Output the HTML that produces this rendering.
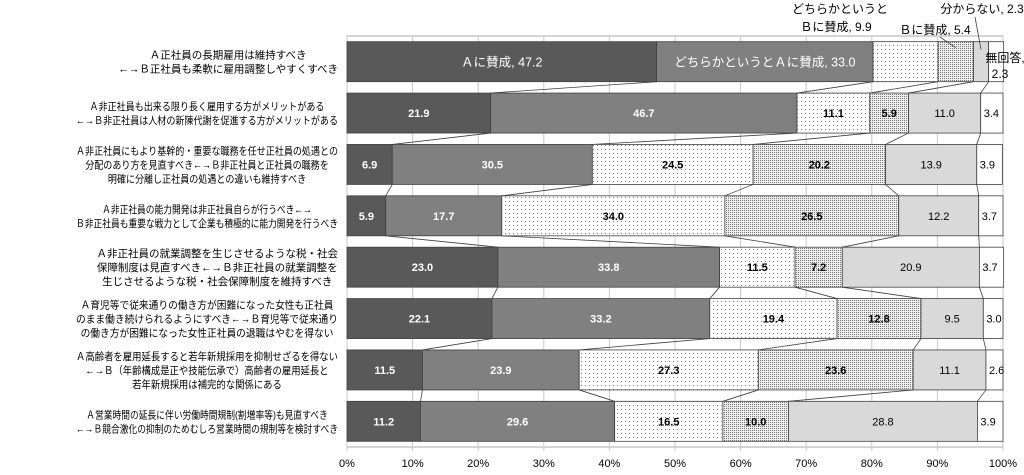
<!DOCTYPE html>
<html><head><meta charset="utf-8"><style>
body{margin:0;background:#fff;width:1024px;height:470px;overflow:hidden;font-family:"Liberation Sans","Noto Sans CJK JP",sans-serif}
</style></head><body>
<svg id="c" width="1024" height="470" xmlns="http://www.w3.org/2000/svg" font-family="'Liberation Sans','Noto Sans CJK JP',sans-serif">
<defs>
<pattern id="sparse" width="4" height="4" patternUnits="userSpaceOnUse"><rect width="4" height="4" fill="#fff"/><rect x="1" y="1" width="1" height="1" fill="#777"/></pattern>
<pattern id="dense" width="2" height="2" patternUnits="userSpaceOnUse"><rect width="2" height="2" fill="#eee"/><rect width="1" height="1" fill="#777"/></pattern>
</defs>
</svg>
<script>
const categories=[
["Ａ正社員の長期雇用は維持すべき","←→Ｂ正社員も柔軟に雇用調整しやすくすべき"],
["Ａ非正社員も出来る限り長く雇用する方がメリットがある","←→Ｂ非正社員は人材の新陳代謝を促進する方がメリットがある"],
["Ａ非正社員にもより基幹的・重要な職務を任せ正社員の処遇との","分配のあり方を見直すべき←→Ｂ非正社員と正社員の職務を","明確に分離し正社員の処遇との違いも維持すべき"],
["Ａ非正社員の能力開発は非正社員自らが行うべき←→","Ｂ非正社員も重要な戦力として企業も積極的に能力開発を行うべき"],
["Ａ非正社員の就業調整を生じさせるような税・社会","保障制度は見直すべき←→Ｂ非正社員の就業調整を","生じさせるような税・社会保障制度を維持すべき"],
["Ａ育児等で従来通りの働き方が困難になった女性も正社員","のまま働き続けられるようにすべき←→Ｂ育児等で従来通り","の働き方が困難になった女性正社員の退職はやむを得ない"],
["Ａ高齢者を雇用延長すると若年新規採用を抑制せざるを得ない","←→Ｂ（年齢構成是正や技能伝承で）高齢者の雇用延長と","若年新規採用は補完的な関係にある"],
["Ａ営業時間の延長に伴い労働時間規制(割増率等)も見直すべき","←→Ｂ競合激化の抑制のためむしろ営業時間の規制等を検討すべき"]];
const seriesNames=["Ａに賛成","どちらかというとＡに賛成","どちらかというとＢに賛成","Ｂに賛成","分からない","無回答"];
const sA=[47.2,21.9,6.9,5.9,23.0,22.1,11.5,11.2];
const sA2=[33.0,46.7,30.5,17.7,33.8,33.2,23.9,29.6];
const sB2=[9.9,11.1,24.5,34.0,11.5,19.4,27.3,16.5];
const sB=[5.4,5.9,20.2,26.5,7.2,12.8,23.6,10.0];
const sDK=[2.3,11.0,13.9,12.2,20.9,9.5,11.1,28.8];
const sNA=[2.3,3.4,3.9,3.7,3.7,3.0,2.6,3.9];
const ticks=["0%","10%","20%","30%","40%","50%","60%","70%","80%","90%","100%"];
const series=[sA,sA2,sB2,sB,sDK,sNA];
const fills=["#595959","#808080","url(#sparse)","url(#dense)","#d9d9d9","#fff"];
const tcol=["#fff","#fff","#000","#000","#000","#000"];
const tw=["bold","bold","bold","bold","normal","normal"];
const X0=347,X1=1003,Y0=36,Y1=447,BH=40;
const x=v=>X0+(X1-X0)*v/100;
const rowH=(Y1-Y0)/categories.length;
const yTop=i=>Y0+rowH*i+(rowH-BH)/2;
const svg=document.getElementById('c');
const NS="http://www.w3.org/2000/svg";
function mk(t,a,p){const e=document.createElementNS(NS,t);for(const k in a)e.setAttribute(k,a[k]);(p||svg).appendChild(e);return e;}
const frame=mk('rect',{x:X0,y:Y0,width:X1-X0,height:Y1-Y0,fill:'#fff',stroke:'#aaa'});


ticks.forEach((t,i)=>{
 const gx=x(i*10);
 const g=mk('line',{x1:gx,x2:gx,y1:Y0,y2:Y1+4,stroke:'#c8c8c8'});
 
 
 const tx=mk('text',{x:gx,y:467,'font-size':11,'text-anchor':'middle',fill:'#000'});
 tx.textContent=t;
 
 
});
for(let i=0;i<categories.length-1;i++){
 let c1=0,c2=0;
 for(let s=0;s<series.length-1;s++){
  c1+=series[s][i];c2+=series[s][i+1];
  const l=mk('line',{x1:x(c1),y1:yTop(i)+BH,x2:x(c2),y2:yTop(i+1),stroke:'#404040','stroke-width':0.8});
  
  
 }
}
categories.forEach((cat,i)=>{
 let cum=0;const yt=yTop(i);
 series.forEach((arr,s)=>{
  const v=arr[i];
  const r=mk('rect',{x:x(cum),y:yt,width:x(cum+v)-x(cum),height:BH,fill:fills[s],stroke:'#404040','stroke-width':0.8});
  
  
  const cx=x(cum+v/2);
  if(i===0){
   if(s<2){const t=mk('text',{x:cx,y:yt+BH/2+5,'font-size':12.5,'text-anchor':'middle',fill:'#fff'});t.textContent=seriesNames[s]+", "+v.toFixed(1);
    
    }
  } else {
   const t=mk('text',{x:(s===5?x(cum)+3:cx),y:yt+BH/2+4,'font-size':11,'text-anchor':s===5?'start':'middle',fill:tcol[s],'font-weight':tw[s]});
   t.textContent=v.toFixed(1);
   
   
  }
  cum+=v;
 });
 // category labels: block centered, right edge at 338
 const cy=Y0+rowH*i+rowH/2-(cat.length-1)*7;
 const els=cat.map((ln,k)=>{
  const t=mk('text',{x:0,y:cy+k*14+4,'font-size':10.5,'text-anchor':'middle',fill:'#000'});
  t.textContent=ln;
  
  
  return t;
 });
 const ws=els.map(e=>e.getComputedTextLength());
 const maxW=Math.max(...ws);
 const sc=maxW>262?262/maxW:1;
 const bw=maxW*sc;
 const center=338-bw/2;
 els.forEach((e,k)=>{e.setAttribute('x',center);if(sc<1){e.setAttribute('textLength',ws[k]*sc);e.setAttribute('lengthAdjust','spacingAndGlyphs');}});
});
const c0=sA[0]+sA2[0];
function lbl(txt,tx,ty){const t=mk('text',{x:tx,y:ty,'font-size':12,'text-anchor':'middle',fill:'#000'});t.textContent=txt;
 
 }
function cl(x1,y1,x2,y2){const l=mk('line',{x1,y1,x2,y2,stroke:'#404040','stroke-width':0.8});
 
 }
lbl("どちらかというと",840,13);
lbl("Ｂに賛成, "+sB2[0].toFixed(1),836,31);
lbl(seriesNames[3]+", "+sB[0].toFixed(1),935,34);
cl(940,37,x(c0+sB2[0]+sB[0]/2),yTop(0)+6);
lbl(seriesNames[4]+", "+sDK[0].toFixed(1),982,13);
cl(975,17,x(c0+sB2[0]+sB[0]+sDK[0]/2),yTop(0)+8);
lbl(seriesNames[5]+",",1005,62);
lbl(sNA[0].toFixed(1),1000,78);
</script>
</body></html>
